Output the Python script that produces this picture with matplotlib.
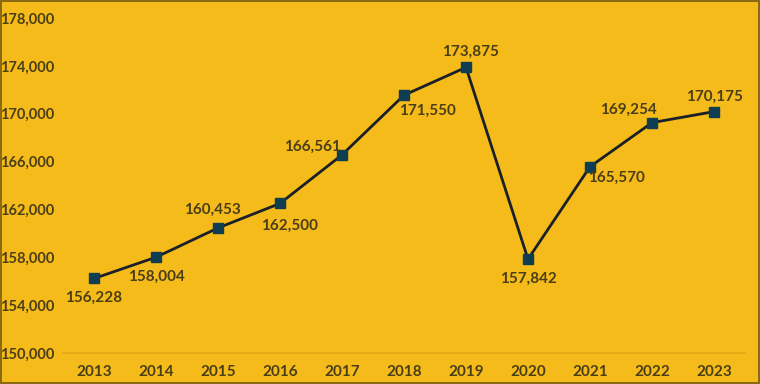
import matplotlib
matplotlib.use("Agg")
import matplotlib.pyplot as plt

years = ["2013", "2014", "2015", "2016", "2017", "2018", "2019", "2020", "2021", "2022", "2023"]
values = [156228, 158004, 160453, 162500, 166561, 171550, 173875, 157842, 165570, 169254, 170175]
y_ticks = [150000, 154000, 158000, 162000, 166000, 170000, 174000, 178000]
# label offsets (points) relative to each marker
label_offsets = [(0, -14), (0, -14), (-4, 13), (7, -16), (-21, 6), (17, -11), (3, 11), (0, -14), (19, -8), (-17, 9), (0, 11)]

BG = "#F5BB1A"
TXT = "#4A3E16"
plt.rcParams["font.family"] = ["Lato", "DejaVu Sans"]

fig = plt.figure(figsize=(7.6, 3.84), dpi=100, facecolor=BG)
fig.patch.set_edgecolor("#8A6A12")
fig.patch.set_linewidth(1.5)
ax = fig.add_axes([63/760, 31/384, (745-63)/760, (353-18)/384])
ax.set_facecolor(BG)

x = list(range(len(years)))
ax.plot(x, values, color="#1A2028", linewidth=2, marker="s", markersize=6.5,
        markerfacecolor="#0F3E52", markeredgecolor="#0F3E52", zorder=3)

for xi, v, off in zip(x, values, label_offsets):
    ax.annotate(f"{v:,}", (xi, v), xytext=off, textcoords="offset points",
                ha="center", va="center", fontsize=11, fontweight="bold", color=TXT)

ax.set_xlim(-0.5, len(years) - 0.5)
ax.set_ylim(150000, 178000)
ax.set_xticks(x)
ax.set_xticklabels(years)
ax.set_yticks(y_ticks)
ax.set_yticklabels([f"{t:,}" for t in y_ticks])
for s in ["top", "right", "left"]:
    ax.spines[s].set_visible(False)
ax.spines["bottom"].set_color("#E0A818")
ax.spines["bottom"].set_linewidth(1.2)
ax.tick_params(axis="both", length=0, labelsize=11, labelcolor=TXT)
ax.tick_params(axis="y", pad=6, labelsize=10.5)
ax.tick_params(axis="x", pad=9)
for lab in ax.get_xticklabels() + ax.get_yticklabels():
    lab.set_fontweight("bold")

fig.savefig("out.png", dpi=100, facecolor=BG, edgecolor=fig.patch.get_edgecolor())
